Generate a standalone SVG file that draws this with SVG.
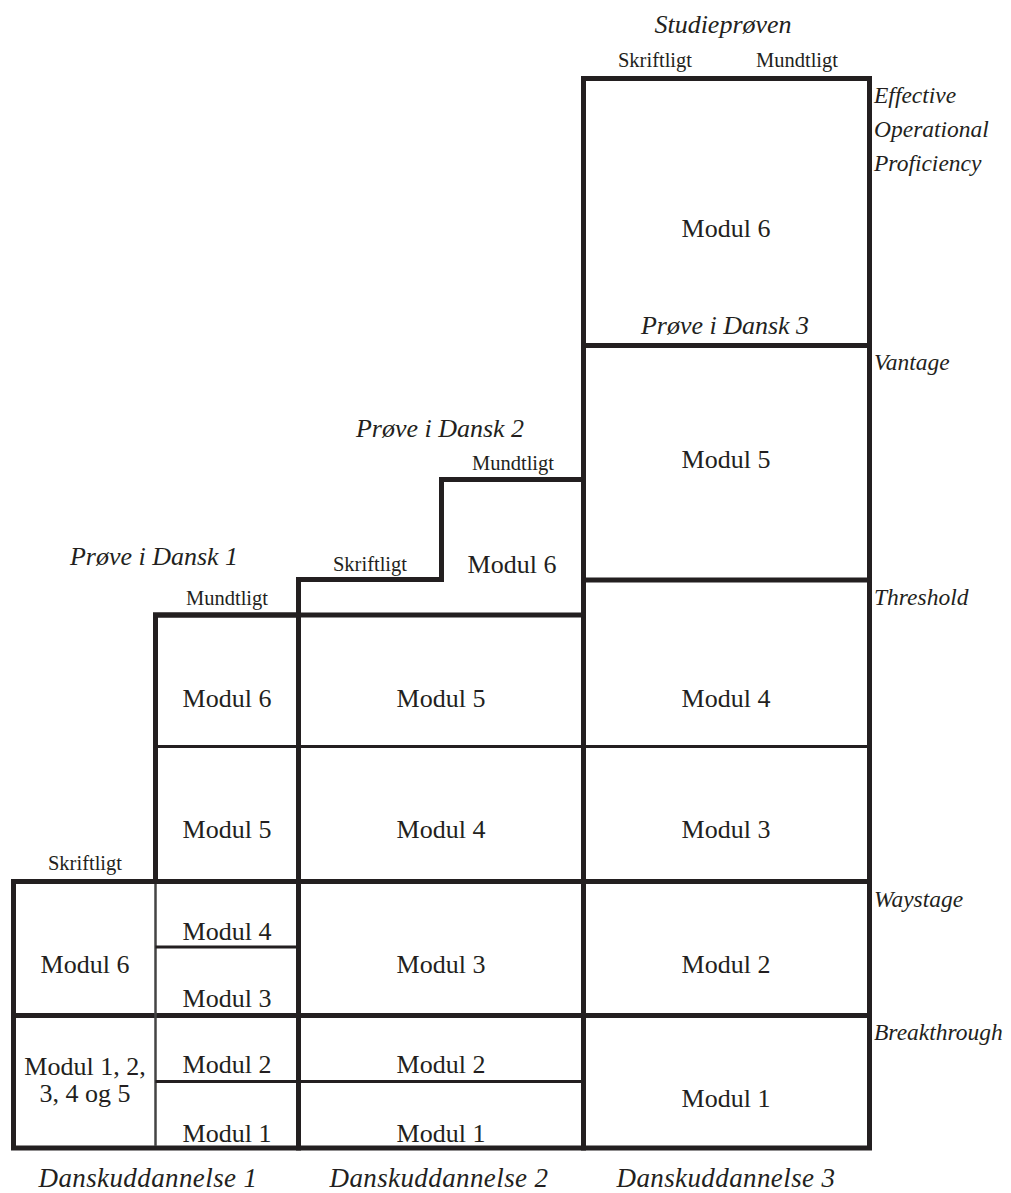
<svg xmlns="http://www.w3.org/2000/svg" width="1011" height="1193" viewBox="0 0 1011 1193">
<style>
.thick{stroke:#231f20;stroke-width:5;fill:none;stroke-linecap:square}
.thin{stroke:#231f20;stroke-width:3;fill:none}
.hair{stroke:#444;stroke-width:2.5;fill:none}
text{font-family:"Liberation Serif","Times New Roman","DejaVu Serif",serif;fill:#231f20;text-anchor:middle}
.m{font-size:26px}
.s{font-size:20.5px}
.it{font-size:26px;font-style:italic}
.ft{font-size:27px;font-style:italic;letter-spacing:0.4px}
.lv{font-size:23.5px;font-style:italic;text-anchor:start}
</style>
<rect width="1011" height="1193" fill="#fff"/>
<g id="connectors">
  <path class="thick" d="M583.5 78.5H869.5V1148H13.5V881.5H155.5V615H298.5V579.5H441.5V479.5H583.5"/>
  <path class="thick" d="M583.5 78.5V1148"/>
  <path class="thick" d="M298.5 615V1148"/>
  <path class="thick" d="M155.5 615H583.5"/>
  <path class="thick" d="M583.5 345.5H869.5"/>
  <path class="thick" d="M583.5 580H869.5"/>
  <path class="thick" d="M13.5 881.5H869.5"/>
  <path class="thick" d="M13.5 1015.5H869.5"/>
  <path class="hair" d="M155.5 884V1146"/>
  <path class="thin" d="M155.5 746.5H869.5"/>
  <path class="thin" d="M155.5 947H298.5"/>
  <path class="thin" d="M155.5 1081.5H583.5"/>
</g>
<g id="studieproven-header">
  <text class="it" x="723" y="33">Studieprøven</text>
  <text class="s" x="655" y="67">Skriftligt</text>
  <text class="s" x="797" y="67">Mundtligt</text>
</g>
<g id="levels">
  <text class="lv" x="874" y="103">Effective</text>
  <text class="lv" x="874" y="137">Operational</text>
  <text class="lv" x="874" y="171">Proficiency</text>
  <text class="lv" x="874" y="370">Vantage</text>
  <text class="lv" x="874" y="605">Threshold</text>
  <text class="lv" x="874" y="907">Waystage</text>
  <text class="lv" x="874" y="1040">Breakthrough</text>
</g>
<g id="du3-modul6"><text class="m" x="726" y="237">Modul 6</text></g>
<g id="du3-prove3"><text class="it" x="725" y="334">Prøve i Dansk 3</text></g>
<g id="du3-modul5"><text class="m" x="726" y="468">Modul 5</text></g>
<g id="du3-modul4"><text class="m" x="726" y="707">Modul 4</text></g>
<g id="du3-modul3"><text class="m" x="726" y="838">Modul 3</text></g>
<g id="du3-modul2"><text class="m" x="726" y="973">Modul 2</text></g>
<g id="du3-modul1"><text class="m" x="726" y="1107">Modul 1</text></g>
<g id="du2-prove2">
  <text class="it" x="440" y="437">Prøve i Dansk 2</text>
  <text class="s" x="513" y="470">Mundtligt</text>
  <text class="s" x="370" y="571">Skriftligt</text>
</g>
<g id="du2-modul6"><text class="m" x="512" y="573">Modul 6</text></g>
<g id="du2-modul5"><text class="m" x="441" y="707">Modul 5</text></g>
<g id="du2-modul4"><text class="m" x="441" y="838">Modul 4</text></g>
<g id="du2-modul3"><text class="m" x="441" y="973">Modul 3</text></g>
<g id="du2-modul2"><text class="m" x="441" y="1073">Modul 2</text></g>
<g id="du2-modul1"><text class="m" x="441" y="1142">Modul 1</text></g>
<g id="du1-prove1">
  <text class="it" x="154" y="565">Prøve i Dansk 1</text>
  <text class="s" x="227" y="605">Mundtligt</text>
  <text class="s" x="85" y="870">Skriftligt</text>
</g>
<g id="du1-modul6"><text class="m" x="227" y="707">Modul 6</text></g>
<g id="du1-modul5"><text class="m" x="227" y="838">Modul 5</text></g>
<g id="du1-modul4"><text class="m" x="227" y="940">Modul 4</text></g>
<g id="du1-modul3"><text class="m" x="227" y="1007">Modul 3</text></g>
<g id="du1-modul2"><text class="m" x="227" y="1073">Modul 2</text></g>
<g id="du1-modul1"><text class="m" x="227" y="1142">Modul 1</text></g>
<g id="du1-left-modul6"><text class="m" x="85" y="973">Modul 6</text></g>
<g id="du1-left-modul1-5">
  <text class="m" x="85" y="1075">Modul 1, 2,</text>
  <text class="m" x="85" y="1102">3, 4 og 5</text>
</g>
<g id="footer">
  <text class="ft" x="148" y="1187">Danskuddannelse 1</text>
  <text class="ft" x="439" y="1187">Danskuddannelse 2</text>
  <text class="ft" x="726" y="1187">Danskuddannelse 3</text>
</g>
</svg>
